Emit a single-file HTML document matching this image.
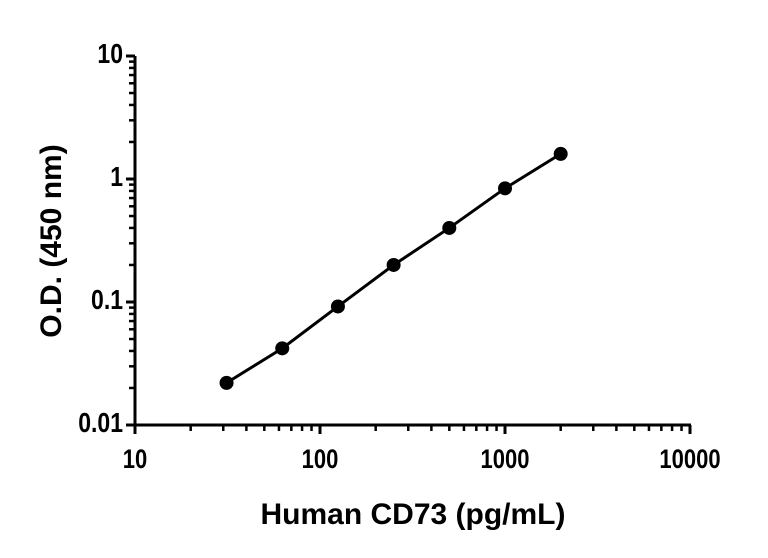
<!DOCTYPE html>
<html><head><style>body{margin:0;background:#fff}svg{display:block;font-family:"Liberation Sans",Arial,sans-serif}</style></head>
<body>
<svg id="chart" width="768" height="558" xmlns="http://www.w3.org/2000/svg"></svg>
<script>
const concentrations=[31.25,62.5,125,250,500,1000,2000];
const odValues=[0.022,0.042,0.092,0.2,0.4,0.84,1.6];
const xTickValues=[10,100,1000,10000];
const xTickLabels=["10","100","1000","10000"];
const yTickValues=[0.01,0.1,1,10];
const yTickLabels=["0.01","0.1","1","10"];
const X0=135,X1=690,Y0=425,Y1=56;
function xs(v){return X0+(Math.log10(v)-1)/3*(X1-X0);}
function ys(v){return Y0-(Math.log10(v)+2)/3*(Y0-Y1);}
const svg=document.getElementById('chart');const NS="http://www.w3.org/2000/svg";
function mk(t,a,p){const e=document.createElementNS(NS,t);for(const k in a)e.setAttribute(k,a[k]);(p||svg).appendChild(e);return e;}
const ax=mk('g',{stroke:'#000','stroke-width':3,fill:'none'});


mk('line',{x1:X0,y1:Y0,x2:X1+1,y2:Y0},ax);
mk('line',{x1:X0,y1:Y0+1,x2:X0,y2:Y1},ax);
for(let d=1;d<4;d++)for(let m=1;m<=10;m++){const v=Math.pow(10,d)*m;if(m===10&&d<3)continue;const x=xs(v);const L=(m===1||m===10)?9:6;mk('line',{x1:x,y1:Y0,x2:x,y2:Y0+L,'stroke-width':(m===1||m===10)?3:2.5},ax);}
for(let d=-2;d<1;d++)for(let m=1;m<=10;m++){const v=Math.pow(10,d)*m;if(m===10&&d<0)continue;const y=ys(v);const L=(m===1||m===10)?9:6;mk('line',{x1:X0,y1:y,x2:X0-L,y2:y,'stroke-width':(m===1||m===10)?3:2.5},ax);}
xTickValues.forEach((v,i)=>{const t=mk('text',{x:0,y:0,transform:'translate('+xs(v)+','+(Y0+43)+') scale(1,1.2)','text-anchor':'middle','font-size':22,'font-weight':'bold'});t.textContent=xTickLabels[i];

});
yTickValues.forEach((v,i)=>{const t=mk('text',{x:0,y:0,transform:'translate('+(X0-12)+','+(ys(v)+7)+') scale(1,1.2)','text-anchor':'end','font-size':23,'font-weight':'bold'});t.textContent=yTickLabels[i];

});
const xt=mk('text',{x:413,y:524,'text-anchor':'middle','font-size':30,'font-weight':'bold'});xt.textContent='Human CD73 (pg/mL)';


const yt=mk('text',{x:0,y:0,'text-anchor':'middle','font-size':30,'font-weight':'bold',transform:'translate(61,241) rotate(-90)'});yt.textContent='O.D. (450 nm)';


const pts=concentrations.map((c,i)=>xs(c)+','+ys(odValues[i])).join(' ');
const ln=mk('polyline',{points:pts,fill:'none',stroke:'#000','stroke-width':3});


concentrations.forEach((c,i)=>{const p=mk('circle',{cx:xs(c),cy:ys(odValues[i]),r:7,fill:'#000'});

});
</script>
</body></html>
